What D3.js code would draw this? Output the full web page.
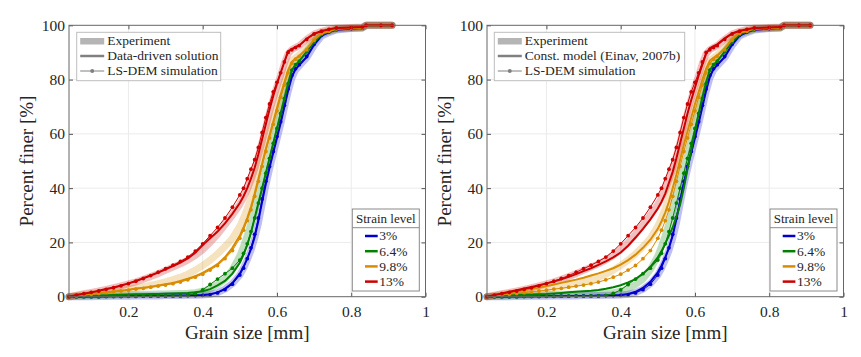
<!DOCTYPE html>
<html><head><meta charset="utf-8">
<script src="https://cdn.jsdelivr.net/npm/d3@7"></script>
<style>
body{margin:0;background:#fff;}
svg text{font-family:"Liberation Serif","DejaVu Serif",serif !important;fill:#262626;}
</style>
</head><body>
<svg id="c" width="861" height="357"></svg>
<script>
// ---------- data ----------
const grain = [0.04,0.06,0.08,0.10,0.12,0.14,0.16,0.18,0.20,0.22,
  0.24,0.26,0.28,0.30,0.32,0.34,0.36,0.38,0.40,0.42,
  0.44,0.46,0.48,0.50,0.51,0.52,0.53,0.54,0.55,0.56,
  0.57,0.58,0.59,0.60,0.61,0.62,0.63,0.64,0.65,0.66,
  0.68,0.70,0.72,0.74,0.76,0.80,0.83,0.84,0.88,0.91];
const strainLabels = ["3%","6.4%","9.8%","13%"];
const xTicks = [0.2,0.4,0.6,0.8,1];
const yTicks = [0,20,40,60,80,100];

// Experiment (percent finer)
const exp3  = [0,0,0,0,0.1,0.1,0.2,0.2,0.2,0.3, 0.3,0.3,0.3,0.4,0.4,0.4,0.5,0.5,0.6,0.9, 1.5,2.8,4.8,8,10.5,13.5,17,21.5,27,34, 41,47,52.5,58,63.5,69.5,75.5,80.5,83.5,85, 88,92.5,96,97.3,98.3,98.8,99,100,100,100];
const exp64 = [0,0.2,0.3,0.4,0.5,0.6,0.6,0.7,0.8,0.8, 0.9,0.9,1,1,1.1,1.2,1.3,1.5,2,3, 4.5,6.5,10,15,18.5,22.5,27,32,37,42, 47,52,57.5,63,68.5,74,79.5,84,85.5,87, 90.5,94,96.8,97.8,98.6,98.9,99,100,100,100];
const exp98 = [0,0.4,0.8,1.1,1.4,1.8,2.1,2.5,2.8,3.2, 3.7,4.2,4.8,5.5,6.3,7.2,8.3,9.8,11.5,13.5, 15.8,18.5,21.5,26,29,32.5,36.5,41,46,51, 56,61,65.5,70,74.5,79,83.5,87,88,89, 91.5,95,97.2,98,98.7,99,99.1,100,100,100];
const exp13 = [0,0.6,1.1,1.6,2.1,2.7,3.3,4,4.7,5.5, 6.4,7.4,8.5,9.7,10.9,12.1,13.5,15.2,17.3,20, 23,26.5,30,34,36.5,39.5,43,47,52,57, 62.5,68,73,77.5,81.5,86,89.5,91,91.8,92.5, 94.8,96.8,97.8,98.5,99,99.2,99.4,100,100,100];

// LS-DEM simulation
const dem3  = [0,0,0,0,0,0.1,0.1,0.1,0.2,0.2, 0.2,0.2,0.3,0.3,0.3,0.3,0.4,0.4,0.5,0.8, 1.4,2.6,4.6,8,10.5,14,18,23,29,36, 42.5,48,53.5,59,64.5,70.5,76.5,81.5,84,85.5, 88.5,93,96.3,97.5,98.4,98.8,99,100,100,100];
const dem64 = [0,0,0,0,0,0.1,0.1,0.1,0.1,0.1, 0.2,0.2,0.2,0.2,0.3,0.3,0.4,1.2,2.5,4.5, 6.5,8.5,10.5,13.5,16,19.5,24,29,34.5,40, 45.5,51,56.5,62,67.5,73,78.5,83.5,85.5,86.8, 90.3,93.8,96.6,97.7,98.6,98.9,99,100,100,100];
const dem98 = [0,0.3,0.6,0.9,1.2,1.5,1.8,2.1,2.4,2.8, 3.1,3.5,3.9,4.3,4.8,5.4,6.2,7.2,8.3,9.8, 11.5,14,17,21.5,24.5,28,32,37,42.5,48, 53.5,58.5,63.5,68.5,73.5,78,82.5,86,87.5,88.5, 91,94.5,97,97.8,98.7,99,99.1,100,100,100];
const dem13 = [0,0.6,1.1,1.6,2.1,2.7,3.3,4,4.8,5.7, 6.7,7.8,9,10.3,11.6,13,14.6,16.8,19.5,22.5, 25.5,29,33,37.5,40,43.5,47,50.5,55,60.5, 66,71,75.5,79,82.5,86.5,90,91,91.8,92.5, 94.8,96.8,97.8,98.5,99,99.2,99.4,100,100,100];

// Data-driven solution (left panel)
const dd3  = [0,0,0,0.1,0.1,0.1,0.2,0.2,0.2,0.3, 0.3,0.3,0.3,0.3,0.4,0.4,0.4,0.5,0.6,0.9, 1.6,2.9,5,8.5,11,14,17.5,22,28,35, 41.5,47.5,53,58.5,64,70,76,81,83.8,85.3, 88.3,92.8,96.2,97.4,98.4,98.8,99,100,100,100];
const dd64 = [0,0.2,0.3,0.3,0.4,0.5,0.6,0.7,0.8,0.9, 0.9,1,1,1.1,1.2,1.3,1.4,1.6,2,2.8, 4.2,5.8,8.5,12.5,15.5,19,23.5,29,34.5,40, 45.5,51,56.5,62,67.5,73,78.5,83.5,85.5,86.8, 90.3,93.8,96.6,97.7,98.6,98.9,99,100,100,100];
const dd98 = [0,0.4,0.7,1,1.3,1.6,1.9,2.2,2.6,3, 3.3,3.7,4.1,4.6,5.1,5.8,6.6,7.6,8.8,10.3, 12,14.5,18,22.5,25.5,29,33,38,43.5,49, 54.5,59.5,64.5,69.5,74.5,79,83.5,86.5,87.8,88.8, 91.2,94.7,97,97.8,98.7,99,99.1,100,100,100];
const dd13 = [0,0.6,1.1,1.6,2.2,2.8,3.4,4.1,4.9,5.8, 6.8,7.8,8.9,10.1,11.3,12.6,14.1,16.2,19,21.5, 24,27,30.5,34.5,37,40,43.5,47.5,52.5,58, 63.5,69,74,78.5,82.5,86.5,90.5,91.2,92,92.6, 95,96.9,97.9,98.5,99,99.2,99.4,100,100,100];

// Constitutive model (Einav, 2007b) (right panel)
const cm3  = [0,0,0,0.1,0.1,0.1,0.1,0.2,0.2,0.2, 0.2,0.3,0.3,0.3,0.3,0.4,0.4,0.5,0.6,1.0, 1.8,3.2,5.5,9,11.5,14.5,18,22.5,28.5,35, 41.5,47.5,53,58.5,64,70,76,81,83.8,85.3, 88.3,92.8,96.2,97.4,98.4,98.8,99,100,100,100];
const cm64 = [0,0.2,0.3,0.5,0.6,0.7,0.8,0.9,1,1.2, 1.4,1.6,1.8,2,2.2,2.5,2.9,3.5,4.2,5.3, 6.5,8.5,11,14.5,16.8,19.5,22.5,25.5,29.5,34, 40,47,54,61,67.5,73.5,79,83.5,85.5,86.8, 90.3,93.8,96.6,97.7,98.6,98.9,99,100,100,100];
const cm98 = [0,0.5,1,1.4,1.9,2.4,2.9,3.4,3.9,4.5, 5.1,5.7,6.3,7,7.8,8.6,9.5,10.5,11.8,13.5, 15.5,18,21,25,27.8,31,35,40,45,50.5, 56,61,66,71,75.5,80,84,87,88,89, 91.5,95,97.2,98,98.7,99,99.1,100,100,100];
const cm13 = [0,0.6,1.2,1.8,2.4,3,3.6,4.2,4.9,5.6, 6.4,7.3,8.3,9.4,10.5,11.7,13,14.5,16.3,18.8, 21.8,25,28.5,32.5,35,38,42,46,51,56.5, 62,67.5,72.5,77,81.5,85.5,89.5,91.5,92.3,93, 95.2,97,98,98.5,99,99.2,99.4,100,100,100];

// ---------- drawing ----------
const colors = ["#0000cc","#008000","#d98c00","#cc0000"];
const expSet = [exp3,exp64,exp98,exp13];
const demSet = [dem3,dem64,dem98,dem13];
const FONT = '"Liberation Serif","DejaVu Serif",serif';
const panels = [
  {x0:69, x1:425.5, model:[dd3,dd64,dd98,dd13], name:"Data-driven solution", leg:{x:76.7,w:144}, sl:352.3, yl:26},
  {x0:487, x1:843.5, model:[cm3,cm64,cm98,cm13], name:"Const. model (Einav, 2007b)", leg:{x:494.3,w:190.4}, sl:770, yl:444}
];
const yTop = 25.3, yBot = 296.7;
const svg = d3.select("#c");

panels.forEach(p => {
  const g = svg.append("g").attr("font-family",FONT);
  const x = d3.scaleLinear().domain([0.04,1]).range([p.x0,p.x1]);
  const y = d3.scaleLinear().domain([0,100]).range([yBot,yTop]);

  g.selectAll(".gx").data(xTicks.filter(d=>d<1)).join("line")
    .attr("x1",d=>x(d)).attr("x2",d=>x(d)).attr("y1",yTop).attr("y2",yBot)
    .attr("stroke","#ebebeb").attr("stroke-width",1);
  g.selectAll(".gy").data(yTicks.filter(d=>d>0&&d<100)).join("line")
    .attr("y1",d=>y(d)).attr("y2",d=>y(d)).attr("x1",p.x0).attr("x2",p.x1)
    .attr("stroke","#ebebeb").attr("stroke-width",1);

  const line = d3.line().x((d,i)=>x(grain[i])).y(d=>y(d));

  expSet.forEach((s,k)=>{
    g.append("path").attr("d",line(s)).attr("fill","none")
      .attr("stroke",colors[k]).attr("stroke-opacity",0.25)
      .attr("stroke-width",7).attr("stroke-linejoin","round").attr("stroke-linecap","round");
  });
  [0,1,2,3].forEach(k=>{
    g.append("path").attr("d",line(p.model[k])).attr("fill","none")
      .attr("stroke",colors[k]).attr("stroke-width",2);
    g.append("path").attr("d",line(demSet[k])).attr("fill","none")
      .attr("stroke",colors[k]).attr("stroke-width",1);
    g.selectAll(null).data(demSet[k]).join("circle")
      .attr("cx",(d,i)=>x(grain[i])).attr("cy",d=>y(d)).attr("r",1.9)
      .attr("fill",colors[k]);
  });

  const fmt = d => d===1 ? "1" : d3.format(".1f")(d);
  const ax = [
    g.append("g").attr("transform",`translate(0,${yBot})`).call(d3.axisBottom(x).tickValues(xTicks).tickFormat(fmt).tickSizeInner(-4).tickSizeOuter(0).tickPadding(9)),
    g.append("g").attr("transform",`translate(0,${yTop})`).call(d3.axisTop(x).tickValues(xTicks).tickFormat("").tickSizeInner(-4).tickSizeOuter(0)),
    g.append("g").attr("transform",`translate(${p.x0},0)`).call(d3.axisLeft(y).tickValues(yTicks).tickSizeInner(-4).tickSizeOuter(0).tickPadding(4)),
    g.append("g").attr("transform",`translate(${p.x1},0)`).call(d3.axisRight(y).tickValues(yTicks).tickFormat("").tickSizeInner(-4).tickSizeOuter(0))
  ];
  ax.forEach(a=>{
    a.attr("font-family",FONT).attr("font-size",15.5);
    a.select(".domain").remove();
    a.selectAll("line").attr("stroke","#555");
    a.selectAll("text").attr("fill","#262626");
  });
  g.append("rect").attr("x",p.x0).attr("y",yTop).attr("width",p.x1-p.x0).attr("height",yBot-yTop)
    .attr("fill","none").attr("stroke","#666").attr("stroke-width",1);

  g.append("text").attr("x",(p.x0+p.x1)/2).attr("y",339).attr("text-anchor","middle")
    .attr("font-size",19).text("Grain size [mm]");
  g.append("text").attr("transform",`translate(${p.yl},161) rotate(-90)`).attr("text-anchor","middle")
    .attr("dy","0.35em").attr("font-size",19).text("Percent finer [%]");

  const L = g.append("g");
  L.append("rect").attr("x",p.leg.x).attr("y",32.3).attr("width",p.leg.w).attr("height",48.4)
    .attr("fill","#fff").attr("stroke","#bdbdbd").attr("stroke-width",1);
  const lx = p.leg.x+3.5;
  L.append("rect").attr("x",lx).attr("y",38).attr("width",24).attr("height",6.5).attr("fill","#b5b5b5");
  L.append("line").attr("x1",lx).attr("x2",lx+24).attr("y1",56).attr("y2",56).attr("stroke","#808080").attr("stroke-width",2.5);
  L.append("line").attr("x1",lx).attr("x2",lx+24).attr("y1",71).attr("y2",71).attr("stroke","#808080").attr("stroke-width",1);
  L.append("circle").attr("cx",lx+12).attr("cy",71).attr("r",2).attr("fill","#808080");
  [["Experiment",41],[p.name,56],["LS-DEM simulation",71]].forEach(([t,yy])=>{
    L.append("text").attr("x",lx+27).attr("y",yy).attr("dy","0.33em").attr("font-size",13.5).text(t);
  });

  const S = g.append("g");
  S.append("rect").attr("x",p.sl).attr("y",209).attr("width",67).attr("height",82)
    .attr("fill","#fff").attr("stroke","#8a8a8a").attr("stroke-width",1);
  S.append("line").attr("x1",p.sl).attr("x2",p.sl+67).attr("y1",227.7).attr("y2",227.7).attr("stroke","#8a8a8a");
  S.append("text").attr("x",p.sl+33.5).attr("y",218.5).attr("dy","0.33em").attr("text-anchor","middle")
    .attr("font-size",13).text("Strain level");
  strainLabels.forEach((t,k)=>{
    const yy = 236 + k*15.2;
    S.append("line").attr("x1",p.sl+12.7).attr("x2",p.sl+25.4).attr("y1",yy).attr("y2",yy)
      .attr("stroke",colors[k]).attr("stroke-width",2.5);
    S.append("text").attr("x",p.sl+27).attr("y",yy).attr("dy","0.33em").attr("font-size",13.5).text(t);
  });
});
</script>
</body></html>
